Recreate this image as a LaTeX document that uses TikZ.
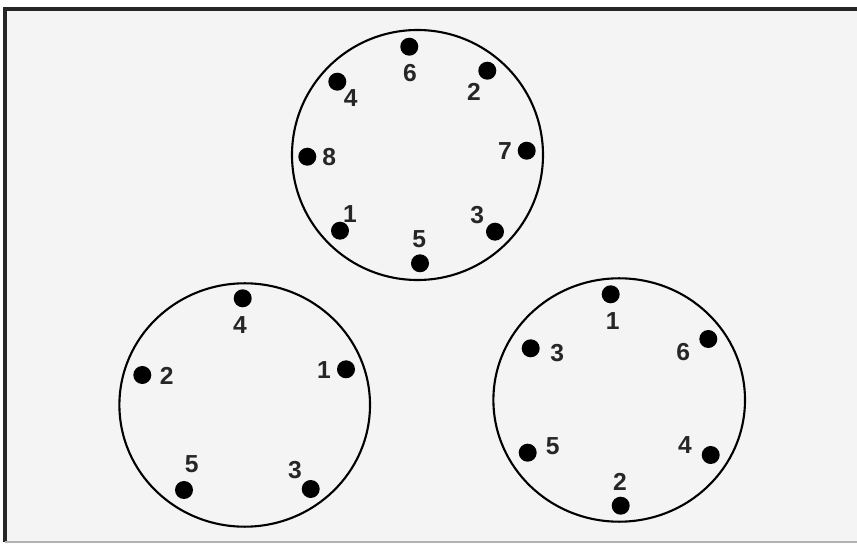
\documentclass[tikz,border=0pt]{standalone}
\usepackage{fontspec}
\setmainfont{Liberation Sans}
\definecolor{sfondo}{HTML}{F4F4F4}
\tikzset{
  foro/.style={circle, fill=black, inner sep=0pt, minimum size=0.54cm},
  cifra/.style={inner sep=0pt, font=\fontsize{21}{21}\selectfont\bfseries, text=black!85},
  bordo/.style={line width=1.8pt}
}
\begin{document}
\begin{tikzpicture}[x=0.03cm, y=-0.03cm]
      \useasboundingbox (0,0) rectangle (857,544);
      % Cornice
      \fill[sfondo] (5,9) rectangle (857,542);
      \draw[line width=3pt, black!85] (5,542) -- (5,9) -- (857,9);
      \draw[line width=1.4pt, black!30] (5,542) -- (857,542);

      % Cerchio superiore (8 fori)
      \draw[bordo] (417.5,155) ellipse (125.5 and 125);
      \node[foro] (a6) at (409.3,46.7) {};  \node[cifra] (na6) at (410,73.3) {6};
      \node[foro] (a2) at (487.3,70.7) {};  \node[cifra] (na2) at (474,91.7) {2};
      \node[foro] (a7) at (526.7,150.7) {}; \node[cifra] (na7) at (505,150.7) {7};
      \node[foro] (a3) at (495,231.7) {};   \node[cifra] (na3) at (477.3,215) {3};
      \node[foro] (a5) at (420,263.3) {};   \node[cifra] (na5) at (419.3,239) {5};
      \node[foro] (a1) at (340,230.7) {};   \node[cifra] (na1) at (350,214) {1};
      \node[foro] (a8) at (307.3,156.7) {}; \node[cifra] (na8) at (329.3,157.3) {8};
      \node[foro] (a4) at (337.3,81.7) {};  \node[cifra] (na4) at (350.7,98.3) {4};

      % Cerchio in basso a sinistra (5 fori)
      \draw[bordo] (244.7,405) ellipse (125.3 and 121.7);
      \node[foro] (b4) at (242.7,298.3) {}; \node[cifra] (nb4) at (240,325) {4};
      \node[foro] (b2) at (142.3,375) {};   \node[cifra] (nb2) at (166.7,376) {2};
      \node[foro] (b1) at (346,369.3) {};   \node[cifra] (nb1) at (324,370) {1};
      \node[foro] (b5) at (184,490) {};     \node[cifra] (nb5) at (191.7,464.3) {5};
      \node[foro] (b3) at (310.7,489) {};   \node[cifra] (nb3) at (295,470) {3};

      % Cerchio in basso a destra (6 fori)
      \draw[bordo] (619.2,400) ellipse (125.8 and 121.7);
      \node[foro] (c1) at (610.7,294.3) {}; \node[cifra] (nc1) at (612.7,321) {1};
      \node[foro] (c3) at (530.7,348.3) {}; \node[cifra] (nc3) at (557.3,353.3) {3};
      \node[foro] (c6) at (708.3,339) {};   \node[cifra] (nc6) at (683.3,351.7) {6};
      \node[foro] (c5) at (527.7,452.7) {}; \node[cifra] (nc5) at (552.7,446) {5};
      \node[foro] (c4) at (710.7,455) {};   \node[cifra] (nc4) at (685,445) {4};
      \node[foro] (c2) at (620.7,505.7) {}; \node[cifra] (nc2) at (620,481.7) {2};
\end{tikzpicture}
\end{document}
